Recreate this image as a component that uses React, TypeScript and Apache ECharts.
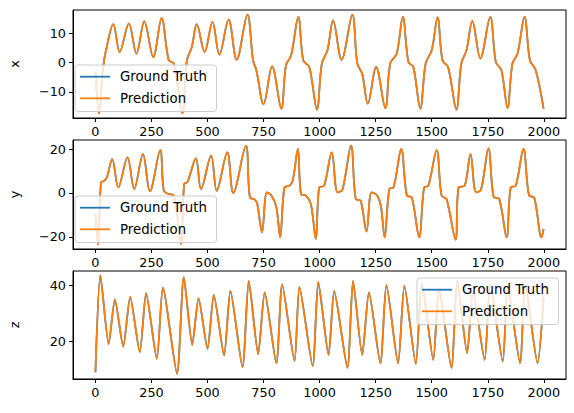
import React, { useEffect, useRef } from "react";
import * as echarts from "echarts";

// Time step indices and values for each variable (key points)
const xSteps = [0,16,34,46,80,108,149,183,218,258,295,327,350,388,408,430,452,487,522,553,594,630,678,703,718,750,788,829,850,873,905,927,954,988,1010,1035,1060,1098,1146,1168,1190,1215,1252,1293,1315,1344,1371,1396,1418,1449,1473,1500,1526,1548,1573,1610,1632,1655,1681,1717,1761,1786,1811,1838,1860,1883,1914,1938,1964,1999];
const xValues = [-3,-17.3,-1.9,3.8,13.1,3.6,13.3,3.1,14.1,1.9,15.2,0.8,-0.3,-17.2,0.8,5.3,13.1,3.6,13.9,2.7,14.7,1.0,16.4,0.8,-2.6,-14.2,-1.3,-15.7,-0.9,2.5,15.6,0.8,-1.5,-16.0,-0.3,4.2,14.4,1.0,16.4,-0.3,-3.8,-14.0,-1.5,-15.5,-0.3,3.1,15.6,0.2,-1.5,-15.7,-0.3,4.2,15.4,0.8,-1.5,-16.0,-0.3,4.2,14.2,1.4,15.6,0.2,-2.6,-15.5,-0.3,3.1,15.6,0.8,-2.6,-15.7];

const ySteps = [0,12,25,40,51,75,102,143,173,212,243,289,305,327,350,382,396,411,448,471,516,541,588,615,671,689,711,722,743,765,785,807,824,843,865,880,903,917,939,961,983,998,1020,1054,1080,1102,1140,1161,1183,1209,1232,1257,1274,1290,1311,1330,1364,1389,1411,1444,1466,1485,1522,1544,1566,1606,1620,1647,1673,1698,1720,1753,1776,1801,1834,1852,1875,1909,1934,1957,1990,1999];
const yValues = [-9.5,-23.5,4.8,5.6,7.1,15.4,2.5,16.2,1.8,17.7,0.7,19.5,1.0,-0.5,-1.2,-23.2,4.1,5.1,15.7,1.8,17.0,1.0,18.5,0,21.5,-2.0,-3.0,-5,-17.9,0.3,-1.2,-6.5,-20.2,2.5,3.3,5.6,20,-0.5,-1.2,-5,-20.9,2.5,3.3,18.5,0.3,1.5,21.5,-2.7,-3.5,-17.5,0.3,-1.2,-6.5,-20.2,1.8,2.5,20,-1.2,-2,-20.2,2.5,3.3,19.5,-1.2,-2.7,-21.2,2.5,3.3,17.7,0.3,1.5,20.3,-1.7,-2.7,-20.2,2.5,3.3,20,-1.2,-2,-20.2,-16.4];

const zSteps = [0,22,59,87,124,155,198,226,274,301,364,394,432,460,500,528,574,602,656,684,726,755,807,833,888,910,969,994,1040,1065,1124,1149,1190,1220,1271,1298,1350,1378,1429,1456,1507,1532,1588,1614,1658,1684,1736,1761,1817,1839,1894,1917,1972,1999];
const zValues = [8.9,43.8,19.0,35.1,18.1,36.0,16.1,37.3,13.7,39.3,8.3,43.2,18.7,35.5,17.3,36.7,14.9,38.2,10.7,41.7,15.4,37.6,12.1,40.5,12.9,39.6,11.1,41.4,15.1,38.1,10.5,41.7,15.1,37.6,12.1,40.3,12.1,40.0,11.9,40.9,13.3,39.1,10.5,42.0,15.7,37.9,13.3,40.3,12.7,39.6,12.1,40.3,12.1,36.0];

const xTickValues = [0, 250, 500, 750, 1000, 1250, 1500, 1750, 2000];
const yTicksX = [-10, 0, 10];
const yTicksY = [-20, 0, 20];
const yTicksZ = [20, 40];
const axisNames = ["x", "y", "z"];
const seriesNames = ["Ground Truth", "Prediction"];

const FONT = "DejaVu Sans";
const BLUE = "#1f77b4";
const ORANGE = "#ff7f0e";

export default function App() {
  const ref = useRef<HTMLDivElement>(null);
  useEffect(() => {
    if (!ref.current) return;
    document.body.style.margin = "0";
    const chart = echarts.init(ref.current, undefined, { renderer: "svg" });
    const grids = [
      { left: 70, top: 10, width: 496, height: 108 },
      { left: 70, top: 140, width: 496, height: 109 },
      { left: 70, top: 271, width: 496, height: 108 },
    ];
    const yRanges = [
      [-18.9, 17.95],
      [-25.5, 24.1],
      [6.45, 45.3],
    ];
    const smoothing = [0.35, 0.35, 0.22];
    const yTicks = [yTicksX, yTicksY, yTicksZ];
    const datasets = [
      xSteps.map((s, i) => [s, xValues[i]]),
      ySteps.map((s, i) => [s, yValues[i]]),
      zSteps.map((s, i) => [s, zValues[i]]),
    ];
    const fmt = (v: number) => String(v).replace("-", "\u2212");
    const legendGraphic = (bx: number, by: number) => [
      {
        type: "rect",
        z: 100,
        shape: { x: bx, y: by, width: 141.5, height: 46.5, r: 3 },
        style: { fill: "rgba(255,255,255,0.8)", stroke: "#cccccc", lineWidth: 1 },
      },
      {
        type: "line",
        z: 101,
        shape: { x1: bx + 5, y1: by + 11.7, x2: bx + 35, y2: by + 11.7 },
        style: { stroke: BLUE, lineWidth: 1.8 },
      },
      {
        type: "line",
        z: 101,
        shape: { x1: bx + 5, y1: by + 33.3, x2: bx + 35, y2: by + 33.3 },
        style: { stroke: ORANGE, lineWidth: 1.8 },
      },
      {
        type: "text",
        z: 101,
        x: bx + 45,
        y: by + 11.7,
        style: { text: seriesNames[0], fill: "#000", font: `13.3px '${FONT}'`, verticalAlign: "middle", align: "left" },
      },
      {
        type: "text",
        z: 101,
        x: bx + 45,
        y: by + 33.3,
        style: { text: seriesNames[1], fill: "#000", font: `13.3px '${FONT}'`, verticalAlign: "middle", align: "left" },
      },
    ];
    const option: any = {
      animation: false,
      backgroundColor: "#fff",
      grid: grids.map((g) => ({ ...g, show: true, borderColor: "#000", borderWidth: 1, backgroundColor: "transparent" })),
      xAxis: grids.map((_, i) => ({
        type: "value",
        gridIndex: i,
        min: -100,
        max: 2099,
        axisLine: { show: true, onZero: false, lineStyle: { color: "#000", width: 1 } },
        axisTick: { show: true, length: 4, customValues: xTickValues, lineStyle: { color: "#000" } },
        axisLabel: {
          customValues: xTickValues,
          color: "#000",
          fontSize: 12.8,
          fontFamily: FONT,
          margin: 7,
          formatter: (v: number) => String(v),
        },
        splitLine: { show: false },
      })),
      yAxis: grids.map((_, i) => ({
        type: "value",
        gridIndex: i,
        min: yRanges[i][0],
        max: yRanges[i][1],
        name: axisNames[i],
        nameLocation: "middle",
        nameGap: 52,
        nameRotate: 90,
        nameTextStyle: { color: "#000", fontSize: 12.8, fontFamily: FONT },
        axisLine: { show: true, onZero: false, lineStyle: { color: "#000", width: 1 } },
        axisTick: { show: true, length: 4, customValues: yTicks[i], lineStyle: { color: "#000" } },
        axisLabel: { customValues: yTicks[i], color: "#000", fontSize: 12.8, fontFamily: FONT, margin: 7, formatter: fmt },
        splitLine: { show: false },
      })),
      series: datasets.flatMap((d, i) => [
        {
          name: seriesNames[0],
          type: "line",
          xAxisIndex: i,
          yAxisIndex: i,
          data: d,
          showSymbol: false,
          smooth: smoothing[i],
          lineStyle: { color: BLUE, width: 1.8 },
          itemStyle: { color: BLUE },
        },
        {
          name: seriesNames[1],
          type: "line",
          xAxisIndex: i,
          yAxisIndex: i,
          data: d,
          showSymbol: false,
          smooth: smoothing[i],
          lineStyle: { color: ORANGE, width: 1.8 },
          itemStyle: { color: ORANGE },
        },
      ]),
      graphic: [...legendGraphic(75, 65), ...legendGraphic(75, 196), ...legendGraphic(417, 278)],
    };
    chart.setOption(option);
    return () => chart.dispose();
  }, []);
  return <div ref={ref} style={{ width: 574, height: 413 }} />;
}
